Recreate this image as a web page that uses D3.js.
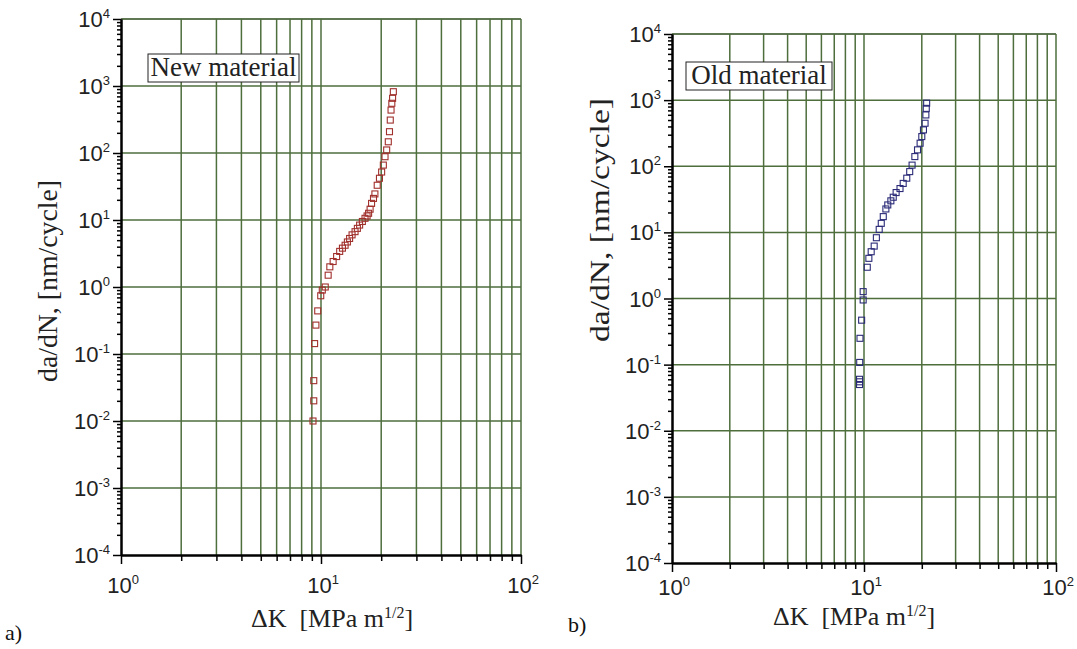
<!DOCTYPE html>
<html>
<head>
<meta charset="utf-8">
<script src="https://cdn.jsdelivr.net/npm/d3@7"></script>
<style>
  body { margin: 0; background: #fff; }
  svg { display: block; }
</style>
</head>
<body>
<script>
// values: stress intensity range ΔK and crack growth rate da/dN
var dkNew = [9.12, 9.2, 9.2, 9.29, 9.43, 9.63, 9.97, 10.15,
             10.5, 10.86, 11.07, 11.5, 11.97, 12.4, 12.8, 13.2, 13.55, 13.9,
             14.3, 14.8, 15.2, 15.6, 16.1, 16.6, 17.0, 17.3, 17.6, 17.9,
             18.3, 18.6, 19.1, 19.6, 20.1, 20.5, 20.9, 21.3, 21.7, 22.0,
             22.2, 22.4, 22.6, 22.8, 23.0];
var rateNew = [0.01, 0.02, 0.04, 0.143, 0.27, 0.44, 0.74, 0.9,
               1.0, 1.5, 2.0, 2.4, 2.85, 3.4, 3.8, 4.2, 4.7, 5.3,
               6.0, 6.7, 7.5, 8.4, 9.5, 10.6, 11.5, 12.6, 14.5, 17.7,
               21, 24.5, 33, 42, 52, 66, 88, 111, 147, 208,
               310, 437, 552, 655, 822];

var dkOld = [9.48, 9.48, 9.48, 9.5, 9.53, 9.72, 9.9, 9.9,
             10.4, 10.6, 10.9, 11.3, 11.6, 12.0, 12.3, 12.6, 13.0, 13.3,
             13.8, 14.2, 14.7, 15.4, 16.0, 16.7, 17.3, 17.8, 18.4, 19.0,
             19.6, 20.0, 20.4, 20.8, 21.0, 21.1, 21.2];
var rateOld = [0.05, 0.055, 0.06, 0.108, 0.25, 0.47, 0.95, 1.27,
               2.97, 4.05, 5.1, 6.2, 8.3, 11.1, 13.7, 17.3, 22.6, 26,
               30, 34, 40, 46, 55, 66, 83, 104, 140, 177,
               223, 281, 355, 447, 597, 750, 900];

// tick values and labels
var xMajor = [1, 10, 100];
var xExp = ["0", "1", "2"];
var yMajor = [1e-4, 1e-3, 1e-2, 1e-1, 1, 10, 100, 1000, 10000];
var yExp = ["-4", "-3", "-2", "-1", "0", "1", "2", "3", "4"];
var panelNames = ["New material", "Old material"];
var panelTags = ["a)", "b)"];

function minorValues(lo, hi) {
  var out = [];
  for (var p = lo; p < hi; p++) {
    for (var d = 1; d <= 9; d++) out.push(d * Math.pow(10, p));
  }
  out.push(Math.pow(10, hi));
  return out;
}
var xGrid = minorValues(0, 2);
var yMinor = minorValues(-4, 4).filter(function(v) { return yMajor.indexOf(v) < 0; });
var xMinor = xGrid.filter(function(v) { return xMajor.indexOf(v) < 0; });

var svg = d3.select("body").append("svg")
    .attr("width", 1077)
    .attr("height", 649);

var panels = [
  {x0: 121, x1: 521, y0: 19, y1: 555, color: "#a0302c", dk: dkNew, rate: rateNew,
   box: {x: 148, y: 54, w: 151, h: 28}, ytitle: {x: 48, y: 281, len: 202},
   xtitle: {x: 332, y: 627}, xlab: 593, tag: {x: 5, y: 640}},
  {x0: 672, x1: 1056, y0: 34, y1: 563, color: "#2b2b78", dk: dkOld, rate: rateOld,
   box: {x: 686, y: 62, w: 146, h: 28}, ytitle: {x: 600, y: 220, len: 244},
   xtitle: {x: 854, y: 625}, xlab: 595, tag: {x: 568, y: 632}}
];

var gridColor = "#4e6e3c";
var serif = "'Liberation Serif', 'Times New Roman', serif";
var sans = "'Liberation Sans', Arial, sans-serif";

panels.forEach(function(p, i) {
  var x = d3.scaleLog().domain([1, 100]).range([p.x0, p.x1]);
  var y = d3.scaleLog().domain([1e-4, 1e4]).range([p.y1, p.y0]);
  var g = svg.append("g");

  // top frame line
  g.append("line")
      .attr("x1", p.x0).attr("x2", p.x1)
      .attr("y1", p.y0).attr("y2", p.y0)
      .attr("stroke", "#777").attr("stroke-width", 1.5);

  // grid
  g.selectAll(".vgrid").data(xGrid.slice(1)).enter().append("line")
      .attr("x1", function(d) { return x(d); })
      .attr("x2", function(d) { return x(d); })
      .attr("y1", p.y0).attr("y2", p.y1)
      .attr("stroke", gridColor).attr("stroke-width", 1.5);
  g.selectAll(".hgrid").data(yMajor.slice(1)).enter().append("line")
      .attr("x1", p.x0).attr("x2", p.x1)
      .attr("y1", function(d) { return y(d); })
      .attr("y2", function(d) { return y(d); })
      .attr("stroke", gridColor).attr("stroke-width", 1.5);

  // axes: minor then major ticks
  g.append("g")
      .attr("transform", "translate(0," + p.y1 + ")")
      .call(d3.axisBottom(x).tickValues(xMinor).tickSize(6).tickSizeOuter(0).tickFormat(""));
  g.append("g")
      .attr("transform", "translate(0," + p.y1 + ")")
      .call(d3.axisBottom(x).tickValues(xMajor).tickSize(9).tickSizeOuter(0).tickFormat(""));
  g.append("g")
      .attr("transform", "translate(" + p.x0 + ",0)")
      .call(d3.axisLeft(y).tickValues(yMinor).tickSize(4).tickSizeOuter(0).tickFormat(""));
  g.append("g")
      .attr("transform", "translate(" + p.x0 + ",0)")
      .call(d3.axisLeft(y).tickValues(yMajor).tickSize(8).tickSizeOuter(0).tickFormat(""));
  g.selectAll(".domain").attr("stroke", "#000").attr("stroke-width", 2);
  g.selectAll(".tick line").attr("stroke", "#000").attr("stroke-width", 1.5);

  // tick labels with superscripts
  var yl = g.selectAll(".ylab").data(yMajor).enter().append("text")
      .attr("x", p.x0 - 11)
      .attr("y", function(d) { return y(d) + 8; })
      .attr("text-anchor", "end")
      .attr("font-family", sans).attr("font-size", 22).attr("fill", "#222");
  yl.append("tspan").text("10");
  yl.append("tspan").attr("dy", -9).attr("font-size", 13)
      .text(function(d, j) { return yExp[j]; });

  var xl = g.selectAll(".xlab").data(xMajor).enter().append("text")
      .attr("x", function(d) { return x(d) + 2; })
      .attr("y", p.xlab)
      .attr("text-anchor", "middle")
      .attr("font-family", sans).attr("font-size", 22).attr("fill", "#222");
  xl.append("tspan").text("10");
  xl.append("tspan").attr("dy", -9).attr("font-size", 13)
      .text(function(d, j) { return xExp[j]; });

  // axis titles
  g.append("text")
      .attr("transform", "translate(" + p.ytitle.x + "," + p.ytitle.y + ") rotate(-90)")
      .attr("text-anchor", "middle")
      .attr("dy", "0.35em")
      .attr("textLength", p.ytitle.len)
      .attr("lengthAdjust", "spacingAndGlyphs")
      .attr("font-family", serif).attr("font-size", 27).attr("fill", "#222")
      .text("da/dN, [nm/cycle]");

  var xt = g.append("text")
      .attr("x", p.xtitle.x).attr("y", p.xtitle.y)
      .attr("text-anchor", "middle")
      .attr("font-family", serif).attr("font-size", 26).attr("fill", "#222");
  xt.append("tspan").text("\u0394K\u00a0\u00a0[MPa m");
  xt.append("tspan").attr("dy", -9).attr("font-size", 16).text("1/2");
  xt.append("tspan").attr("dy", 9).text("]");

  // material label box
  g.append("rect")
      .attr("x", p.box.x).attr("y", p.box.y)
      .attr("width", p.box.w).attr("height", p.box.h)
      .attr("fill", "#fff").attr("stroke", "#222").attr("stroke-width", 1);
  g.append("text")
      .attr("x", p.box.x + p.box.w / 2).attr("y", p.box.y + p.box.h - 6)
      .attr("text-anchor", "middle")
      .attr("font-family", serif).attr("font-size", 27).attr("fill", "#222")
      .text(panelNames[i]);

  // panel tag
  g.append("text")
      .attr("x", p.tag.x).attr("y", p.tag.y)
      .attr("font-family", serif).attr("font-size", 22).attr("fill", "#111")
      .text(panelTags[i]);

  // data: open squares
  g.selectAll(".pt").data(p.dk).enter().append("rect")
      .attr("x", function(d) { return x(d) - 3; })
      .attr("y", function(d, j) { return y(p.rate[j]) - 3; })
      .attr("width", 6).attr("height", 6)
      .attr("fill", "none")
      .attr("stroke", p.color).attr("stroke-width", 1.1);
});
</script>
</body>
</html>
